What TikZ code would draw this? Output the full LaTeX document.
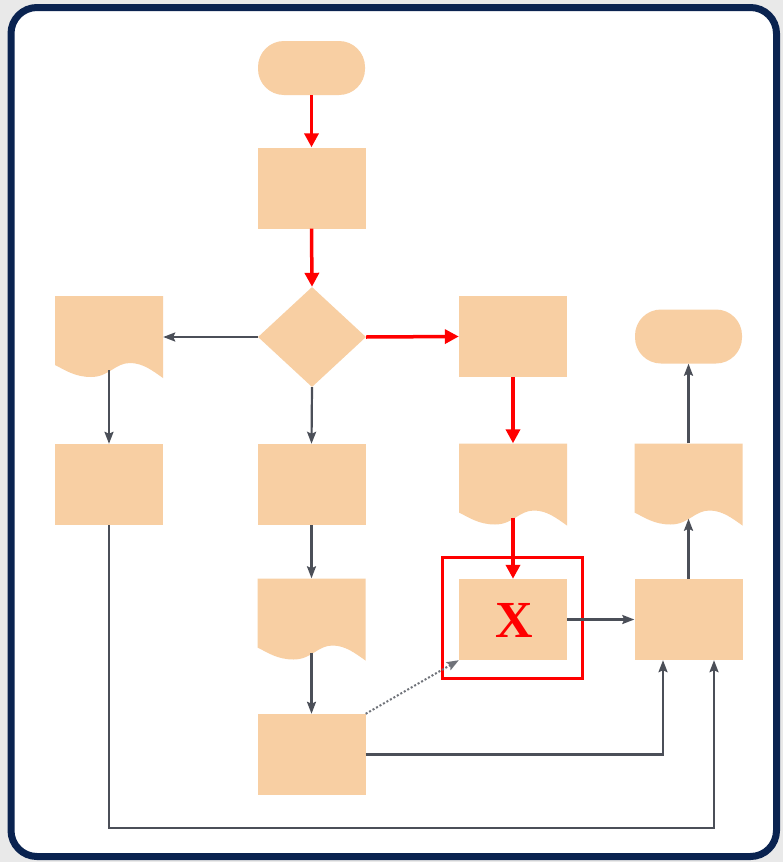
\documentclass[tikz,border=0pt]{standalone}
\usepackage{fontspec}
\setmainfont{Liberation Serif}
\usetikzlibrary{shapes.geometric,arrows.meta,calc}
\definecolor{peach}{HTML}{F8CFA3}
\definecolor{arrgray}{HTML}{4B4F58}
\definecolor{navy}{HTML}{0A2350}
\definecolor{bggray}{HTML}{E9E9E9}
\tikzset{
  box/.style={rectangle, fill=peach, draw=none, minimum width=108pt, minimum height=81pt, inner sep=0pt},
  term/.style={rectangle, rounded corners=26pt, fill=peach, draw=none, minimum width=107pt, minimum height=54pt, inner sep=0pt},
  dec/.style={diamond, fill=peach, draw=none, minimum width=108pt, minimum height=100pt, inner sep=0pt},
  doc/.style={rectangle, draw=none, minimum width=108pt, minimum height=82pt, inner sep=0pt,
    path picture={
      \fill[peach]
        (-54,-41) -- (54,-41) -- (54,41)
        .. controls (44,34) and (34,26) .. (21,26)
        .. controls (6,26) and (0,40) .. (-18,40)
        .. controls (-34,40) and (-44,33) .. (-54,28) -- cycle;
    }},
  garrow/.style={draw=arrgray, line width=2.2pt, -{Stealth[length=12pt,width=9pt,inset=2pt]}},
  rarrow/.style={draw=red, line width=3.5pt, -{Triangle[length=14pt,width=14pt]}},
  dotarrow/.style={draw=arrgray!80, line width=2pt, dotted, -{Stealth[length=12pt,width=9pt,inset=2pt]}},
}
\begin{document}
\begin{tikzpicture}[x=1pt,y=-1pt]
\useasboundingbox (0,0) rectangle (783,862);
\fill[bggray] (0,0) rectangle (783,862);
\draw[navy, line width=7pt, fill=white, rounded corners=26pt] (11,7.5) rectangle (776.5,856.5);

\node[term] (start) at (311.5,68) {};
\node[box] (b1) at (311.5,188) {};
\node[dec] (dia) at (312,337) {};
\node[doc] (ldoc) at (109,337) {};
\node[box] (rbox) at (513,336.5) {};
\node[term] (endt) at (688.5,336.5) {};
\node[box] (lbox) at (109,484.5) {};
\node[box] (mbox) at (311.5,484.5) {};
\node[doc] (rdoc) at (513,484.5) {};
\node[doc] (frdoc) at (688.5,484.5) {};
\node[doc] (mdoc) at (311.5,619.5) {};
\node[box] (xbox) at (513,619.5) {};
\node[box] (frbox) at (688.5,619.5) {};
\node[box] (bbox) at (311.5,754.5) {};

\node[font=\bfseries\fontsize{52}{52}\selectfont, text=red] (xlab) at (514,620) {X};
\draw[red, line width=3.2pt] (442.5,557.5) rectangle (582.5,678.5);

% gray connectors
\draw[garrow] (dia.west) -- (ldoc.east);
\draw[garrow] ([yshift=8pt]ldoc.south) -- (lbox.north);
\draw[garrow] (dia.south) -- (mbox.north);
\draw[garrow] (mbox.south) -- (mdoc.north);
\draw[garrow] ([yshift=8pt]mdoc.south) -- (bbox.north);
\draw[garrow] (xbox.east) -- (frbox.west);
\draw[garrow] (frbox.north) -- ([yshift=7pt]frdoc.south);
\draw[garrow] (frdoc.north) -- (endt.south);
\coordinate (fin1) at ([xshift=-25.5pt]frbox.south);
\coordinate (fin2) at ([xshift=25.5pt]frbox.south);
\coordinate (low) at (0,828);
\draw[garrow] (bbox.east) -| (fin1);
\draw[garrow] (lbox.south) |- (low -| fin2) -- (fin2);
\draw[dotarrow] (bbox.north east) -- (xbox.south west);

% red connectors
\draw[rarrow] (start.south) -- (b1.north);
\draw[rarrow] (b1.south) -- (dia.north);
\draw[rarrow] (dia.east) -- (rbox.west);
\draw[rarrow] (rbox.south) -- (rdoc.north);
\draw[rarrow] ([yshift=8pt]rdoc.south) -- (xbox.north);
\end{tikzpicture}
\end{document}
